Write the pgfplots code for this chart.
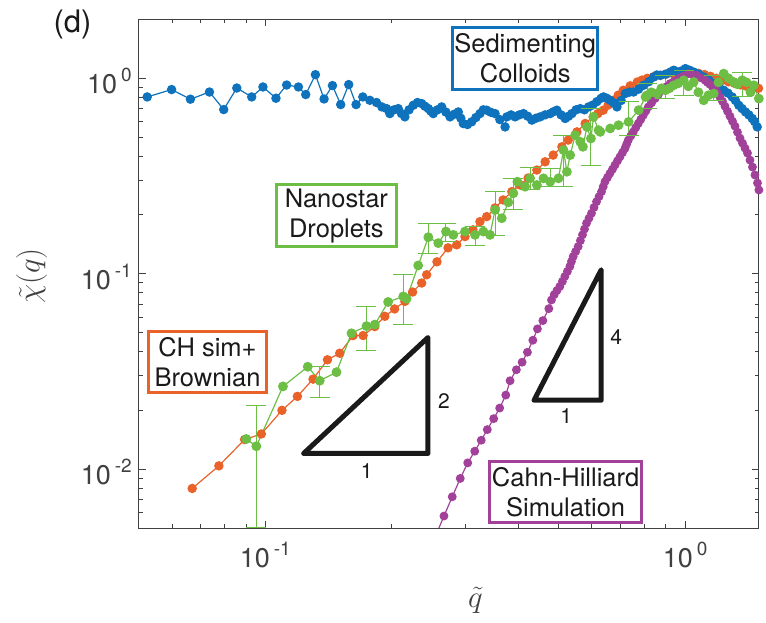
\RequirePackage{fix-cm}
\documentclass[border=0pt]{standalone}
\usepackage{fontspec}
\setmainfont{TeX Gyre Heros}
\usepackage{pgfplots}
\usepackage{pgfplotstable}
\pgfplotsset{compat=1.18}
\definecolor{cblue}{HTML}{0F72BD}
\definecolor{corange}{HTML}{E8622A}
\definecolor{cgreen}{HTML}{6DBE45}
\definecolor{cpurple}{HTML}{A2419A}
\definecolor{axgray}{HTML}{404040}
\definecolor{txt}{HTML}{1A1A1A}
\newcommand{\tlab}[1]{10\hspace{4pt}\raisebox{12pt}{\fontsize{19}{19}\selectfont #1}}

\pgfplotstableread{
x y
0.0523 0.803
0.0598 0.876
0.0663 0.782
0.0736 0.851
0.0796 0.692
0.0855 0.892
0.0928 0.803
0.0987 0.903
0.1060 0.791
0.1124 0.924
0.1199 0.903
0.1248 0.826
0.1316 1.044
0.1380 0.784
0.1445 0.918
0.1512 0.734
0.1580 0.929
0.1645 0.734
0.1707 0.803
0.1774 0.772
0.1840 0.752
0.1895 0.714
0.1945 0.700
0.1980 0.660
0.2026 0.690
0.2073 0.700
0.2110 0.660
0.2150 0.635
0.2200 0.690
0.2251 0.728
0.2304 0.752
0.2357 0.743
0.2400 0.720
0.2445 0.700
0.2478 0.680
0.2512 0.660
0.2570 0.690
0.2631 0.714
0.2692 0.672
0.2754 0.635
0.2818 0.655
0.2882 0.673
0.2922 0.625
0.2962 0.587
0.3030 0.580
0.3102 0.599
0.3174 0.630
0.3246 0.660
0.3306 0.690
0.3368 0.687
0.3446 0.670
0.3526 0.660
0.3620 0.615
0.3726 0.564
0.3761 0.635
0.3850 0.650
0.3936 0.635
0.4028 0.650
0.4120 0.660
0.4217 0.640
0.4314 0.611
0.4414 0.625
0.4514 0.635
0.4640 0.650
0.4770 0.660
0.4860 0.675
0.4949 0.687
0.5064 0.650
0.5180 0.623
0.5277 0.640
0.5374 0.660
0.5500 0.690
0.5626 0.700
0.5757 0.690
0.5888 0.714
0.6027 0.730
0.6166 0.760
0.6307 0.790
0.6394 0.803
0.6513 0.790
0.6633 0.772
0.6757 0.750
0.6882 0.714
0.7040 0.770
0.7203 0.836
0.7370 0.850
0.7540 0.851
0.7750 0.880
0.7964 0.921
0.8190 0.960
0.8415 1.015
0.8570 1.040
0.8731 1.036
0.8980 1.050
0.9224 1.077
0.9400 1.100
0.9570 1.077
0.9790 1.090
1.0017 1.121
1.0250 1.100
1.0484 1.077
1.0780 1.050
1.1075 1.015
1.1390 0.980
1.1704 0.940
1.2030 0.900
1.2362 0.869
1.2650 0.840
1.2946 0.803
1.3180 0.770
1.3424 0.728
1.3670 0.700
1.3927 0.673
1.4190 0.650
1.4451 0.623
1.4650 0.600
1.4854 0.564
}\dBlue

\pgfplotstableread{
x y
0.06695 0.00797
0.07751 0.0104
0.08925 0.01418
0.09783 0.01514
0.10955 0.0200
0.11923 0.02358
0.1299 0.02889
0.1406 0.03629
0.1504 0.03921
0.1618 0.04828
0.1710 0.04828
0.1823 0.05365
0.1926 0.06056
0.2032 0.06605
0.2150 0.07222
0.2243 0.08065
0.2357 0.08966
0.2423 0.09883
0.2564 0.1151
0.2724 0.1357
0.2857 0.1406
0.2990 0.1550
0.3124 0.1677
0.3246 0.1848
0.3368 0.1960
0.3526 0.2172
0.3685 0.2385
0.3866 0.2630
0.4045 0.2845
0.4227 0.3089
0.4435 0.3394
0.4641 0.3741
0.4850 0.4047
0.5087 0.4462
0.5266 0.4828
0.5525 0.5321
0.5782 0.5874
0.6042 0.6347
0.6200 0.6600
0.6383 0.6867
0.6560 0.7300
0.6744 0.7720
0.6930 0.8200
0.7125 0.8687
0.7400 0.9150
0.7695 0.9575
0.7900 0.9800
0.8129 1.000
0.8420 1.020
0.8731 1.036
0.9020 1.050
0.9326 1.0605
0.9660 1.068
1.0017 1.0730
1.0380 1.068
1.0758 1.0605
1.1120 1.045
1.1493 1.0238
1.1870 1.000
1.2274 0.9768
1.2690 0.960
1.3110 0.9430
1.3550 0.925
1.4004 0.9103
1.4480 0.900
1.4961 0.8891
}\dOrange

\pgfplotstableread{
x y
0.09009 0.01427
0.09518 0.01310
0.11015 0.02652
0.12619 0.03342
0.13477 0.02835
0.14773 0.03136
0.16040 0.04960
0.17418 0.05397
0.1823 0.05492
0.19616 0.07171
0.21306 0.07657
0.21706 0.07454
0.23130 0.11024
0.2445 0.1539
0.2582 0.1434
0.2694 0.1644
0.2804 0.1581
0.2990 0.1644
0.3159 0.1581
0.3307 0.1644
0.3430 0.1581
0.3526 0.2121
0.3658 0.1924
0.3793 0.2322
0.3899 0.2581
0.3986 0.2958
0.4158 0.2789
0.4274 0.3078
0.4435 0.2845
0.4598 0.3078
0.4770 0.2958
0.4993 0.3078
0.5132 0.4292
0.5229 0.3326
0.5324 0.4047
0.5473 0.5120
0.5626 0.4732
0.5709 0.4462
0.5836 0.5644
0.5966 0.4924
0.6052 0.6347
0.6221 0.5429
0.6279 0.5321
0.6633 0.5538
0.6942 0.5757
0.7335 0.5985
0.7751 0.6870
0.8050 0.8030
0.8116 0.8190
0.8309 0.8483
0.8576 0.8355
0.8779 0.8891
0.8974 0.8687
0.9174 0.8891
0.9393 0.9210
0.9638 0.9430
0.9923 0.9768
1.0183 0.9103
1.0484 0.9575
1.0758 0.8483
1.1075 0.7720
1.1367 0.8190
1.1704 0.8355
1.2007 0.9541
1.2362 1.0568
1.2686 1.000
1.3060 0.9575
1.3329 0.9320
1.3676 0.9768
1.4004 0.9541
1.4316 0.8483
1.4577 0.9210
1.4986 0.7879
}\dGreen

\pgfplotstableread{
x y ep em top bot
0.09518 0.01310 0.0080 0.00805 0.02113 0.00505
0.13477 0.02835 0.0052 0.0050 0.03354 0.02330
0.17418 0.05397 0.0137 0.0134 0.06763 0.04061
0.21306 0.07657 0.0223 0.0217 0.09883 0.05492
0.2445 0.1539 0.0275 0.0263 0.1814 0.1276
0.2694 0.1644 0.0170 0.0187 0.1814 0.1457
0.3159 0.1581 0.0162 0.0192 0.1743 0.1389
0.3526 0.2121 0.0509 0.0558 0.2630 0.1563
0.3899 0.2581 0.0483 0.0460 0.3064 0.2121
0.4274 0.3078 0.0424 0.0395 0.3502 0.2683
0.4770 0.2958 0.0503 0.0169 0.3461 0.2789
0.5132 0.4292 0.0828 0.1503 0.5120 0.2789
0.5966 0.4924 0.2076 0.1325 0.7000 0.3599
0.7335 0.5985 0.1585 0.0865 0.7570 0.5120
0.8116 0.8190 0.1207 0.1160 0.9397 0.7030
0.8974 0.8687 0.1670 0.0810 1.0360 0.7879
0.9923 0.9768 0.1220 0.1580 1.0986 0.8190
1.1704 0.8355 0.2000 0.0640 1.0360 0.7720
1.3676 0.9768 0.0960 0.1740 1.0730 0.8030
}\dGreenErr

\pgfplotstableread{
x y
0.2550 0.004604
0.2664 0.005757
0.2788 0.007222
0.2913 0.008966
0.3035 0.01077
0.3154 0.012356
0.3269 0.01406
0.3379 0.01594
0.3500 0.01814
0.3617 0.02055
0.3740 0.02394
0.3829 0.02835
0.3964 0.03226
0.4090 0.03527
0.4211 0.03967
0.4338 0.04568
0.4449 0.05222
0.4583 0.05757
0.4736 0.06629
0.4805 0.07342
0.4877 0.07816
0.4952 0.08209
0.5031 0.08615
0.5101 0.09134
0.5171 0.09688
0.5243 0.10274
0.5315 0.10896
0.5362 0.11555
0.5413 0.12254
0.5487 0.12995
0.5563 0.1378
0.5631 0.14771
0.5696 0.1581
0.5759 0.16926
0.5823 0.1814
0.5903 0.1924
0.5985 0.2040
0.6068 0.2184
0.6152 0.2338
0.6237 0.2480
0.6323 0.2630
0.6383 0.2789
0.6443 0.2958
0.6532 0.3107
0.6622 0.3264
0.6714 0.3425
0.6807 0.3599
0.6901 0.3781
0.6997 0.3967
0.7094 0.4169
0.7192 0.4379
0.7255 0.4595
0.7323 0.4828
0.7424 0.5071
0.7527 0.5321
0.7631 0.5591
0.7737 0.5874
0.7844 0.6163
0.7952 0.6475
0.8063 0.6803
0.8174 0.7138
0.8324 0.7499
0.8481 0.7879
0.8636 0.8268
0.8794 0.8687
0.8999 0.9028
0.9209 0.9397
0.9419 0.9676
0.9638 0.9965
0.9907 1.0262
1.0183 1.0568
1.0409 1.0481
1.0658 1.0358
1.0907 1.0059
1.1163 0.9768
1.1304 0.9541
1.1460 0.9320
1.1619 0.9050
1.1780 0.8788
1.1943 0.8384
1.2108 0.8000
1.2274 0.7632
1.2445 0.7197
1.2617 0.6787
1.2791 0.6401
1.2969 0.6034
1.3148 0.5690
1.3329 0.5302
1.3514 0.4941
1.3700 0.4660
1.3890 0.4394
1.4082 0.4143
1.4277 0.3816
1.4474 0.3515
1.4674 0.3200
1.4878 0.2912
1.4990 0.2683
}\dPurple

\tikzset{annot/.style={draw=#1, line width=3pt, inner sep=0pt, align=center,
  font=\fontsize{25.5}{30}\selectfont, text=txt}}

\begin{document}
\begin{tikzpicture}
\useasboundingbox (0,0) rectangle (766pt,623pt);
\begin{axis}[
  at={(139pt,95pt)}, anchor=south west,
  scale only axis, width=620pt, height=508.5pt,
  xmode=log, ymode=log,
  xmin=0.05, xmax=1.5, ymin=0.005, ymax=2,
  axis on top,
  axis line style={draw=axgray, line width=1pt},
  every tick/.style={draw=axgray, line width=1pt},
  major tick length=7pt, minor tick length=4pt,
  tick align=inside,
  xtick={0.1,1}, xticklabels={\tlab{-1},\tlab{0}},
  ytick={0.01,0.1,1}, yticklabels={\tlab{-2},\tlab{-1},\tlab{0}},
  minor xtick={0.06,0.07,0.08,0.09,0.2,0.3,0.4,0.5,0.6,0.7,0.8,0.9},
  minor ytick={0.006,0.007,0.008,0.009,0.02,0.03,0.04,0.05,0.06,0.07,0.08,0.09,0.2,0.3,0.4,0.5,0.6,0.7,0.8,0.9},
  ticklabel style={font=\fontsize{27}{27}\selectfont, text=axgray, inner sep=0pt},
  xticklabel style={anchor=north, yshift=-14pt},
  yticklabel style={anchor=east, xshift=-7pt, yshift=-3pt},
]
\addplot[corange, line width=1.2pt, mark=*, mark size=4.1pt, mark options={solid, fill=corange}] table[x=x,y=y] {\dOrange};
\addplot[cblue, line width=1.2pt, mark=*, mark size=4.1pt, mark options={solid, fill=cblue}] table[x=x,y=y] {\dBlue};
\addplot[cpurple, line width=1.2pt, mark=*, mark size=3.8pt, mark options={solid, fill=cpurple}] table[x=x,y=y] {\dPurple};
\addplot[cgreen, line width=1.2pt, mark=*, mark size=4.3pt, mark options={solid, fill=cgreen}] table[x=x,y=y] {\dGreen};
\addplot[cgreen, only marks, mark=none, forget plot,
  error bars/.cd, y dir=both, y explicit, error mark=none,
  error bar style={line width=1pt, cgreen}]
  table[x=x, y=y, y error plus=ep, y error minus=em] {\dGreenErr};
\addplot[cgreen, only marks, mark=-, mark size=10pt, mark options={line width=1pt}, forget plot] table[x=x,y=top] {\dGreenErr};
\addplot[cgreen, only marks, mark=-, mark size=10pt, mark options={line width=1pt}, forget plot] table[x=x,y=bot] {\dGreenErr};
\addplot[txt, line width=5pt, line join=round, line cap=round, mark=none] coordinates {(0.1234,0.01204) (0.2440,0.04716) (0.2440,0.01204) (0.1234,0.01204)};
\addplot[txt, line width=5pt, line join=round, line cap=round, mark=none] coordinates {(0.4368,0.02254) (0.6313,0.1048) (0.6313,0.02254) (0.4368,0.02254)};
\end{axis}
\node[font=\fontsize{31}{31}\selectfont, text=txt, inner sep=0pt] at (72.5pt,598.5pt) {(d)};
\node[rotate=90, text=axgray, inner sep=0pt, font=\fontsize{31}{31}\selectfont] at (31.7pt,347pt) {$\tilde{\chi}(q)$};
\node[text=axgray, inner sep=0pt, font=\fontsize{31}{31}\selectfont] at (475.5pt,23pt) {$\tilde{q}$};
\node[annot=cblue, minimum width=144.7pt, minimum height=61.7pt] at (525.2pt,564.6pt) {Sedimenting\\Colloids};
\node[annot=cgreen, minimum width=120.3pt, minimum height=62.6pt] at (336.35pt,407.5pt) {Nanostar\\Droplets};
\node[annot=corange, minimum width=118.6pt, minimum height=60.4pt] at (207.5pt,261pt) {CH sim+\\Brownian};
\node[annot=cpurple, minimum width=151.7pt, minimum height=61.3pt] at (565.65pt,130.85pt) {Cahn-Hilliard\\Simulation};
\node[font=\fontsize{21}{21}\selectfont, text=txt, inner sep=0pt] at (366.7pt,151.8pt) {1};
\node[font=\fontsize{21}{21}\selectfont, text=txt, inner sep=0pt] at (444pt,221.8pt) {2};
\node[font=\fontsize{21}{21}\selectfont, text=txt, inner sep=0pt] at (616.3pt,285.7pt) {4};
\node[font=\fontsize{21}{21}\selectfont, text=txt, inner sep=0pt] at (566.3pt,206.5pt) {1};
\end{tikzpicture}
\end{document}
